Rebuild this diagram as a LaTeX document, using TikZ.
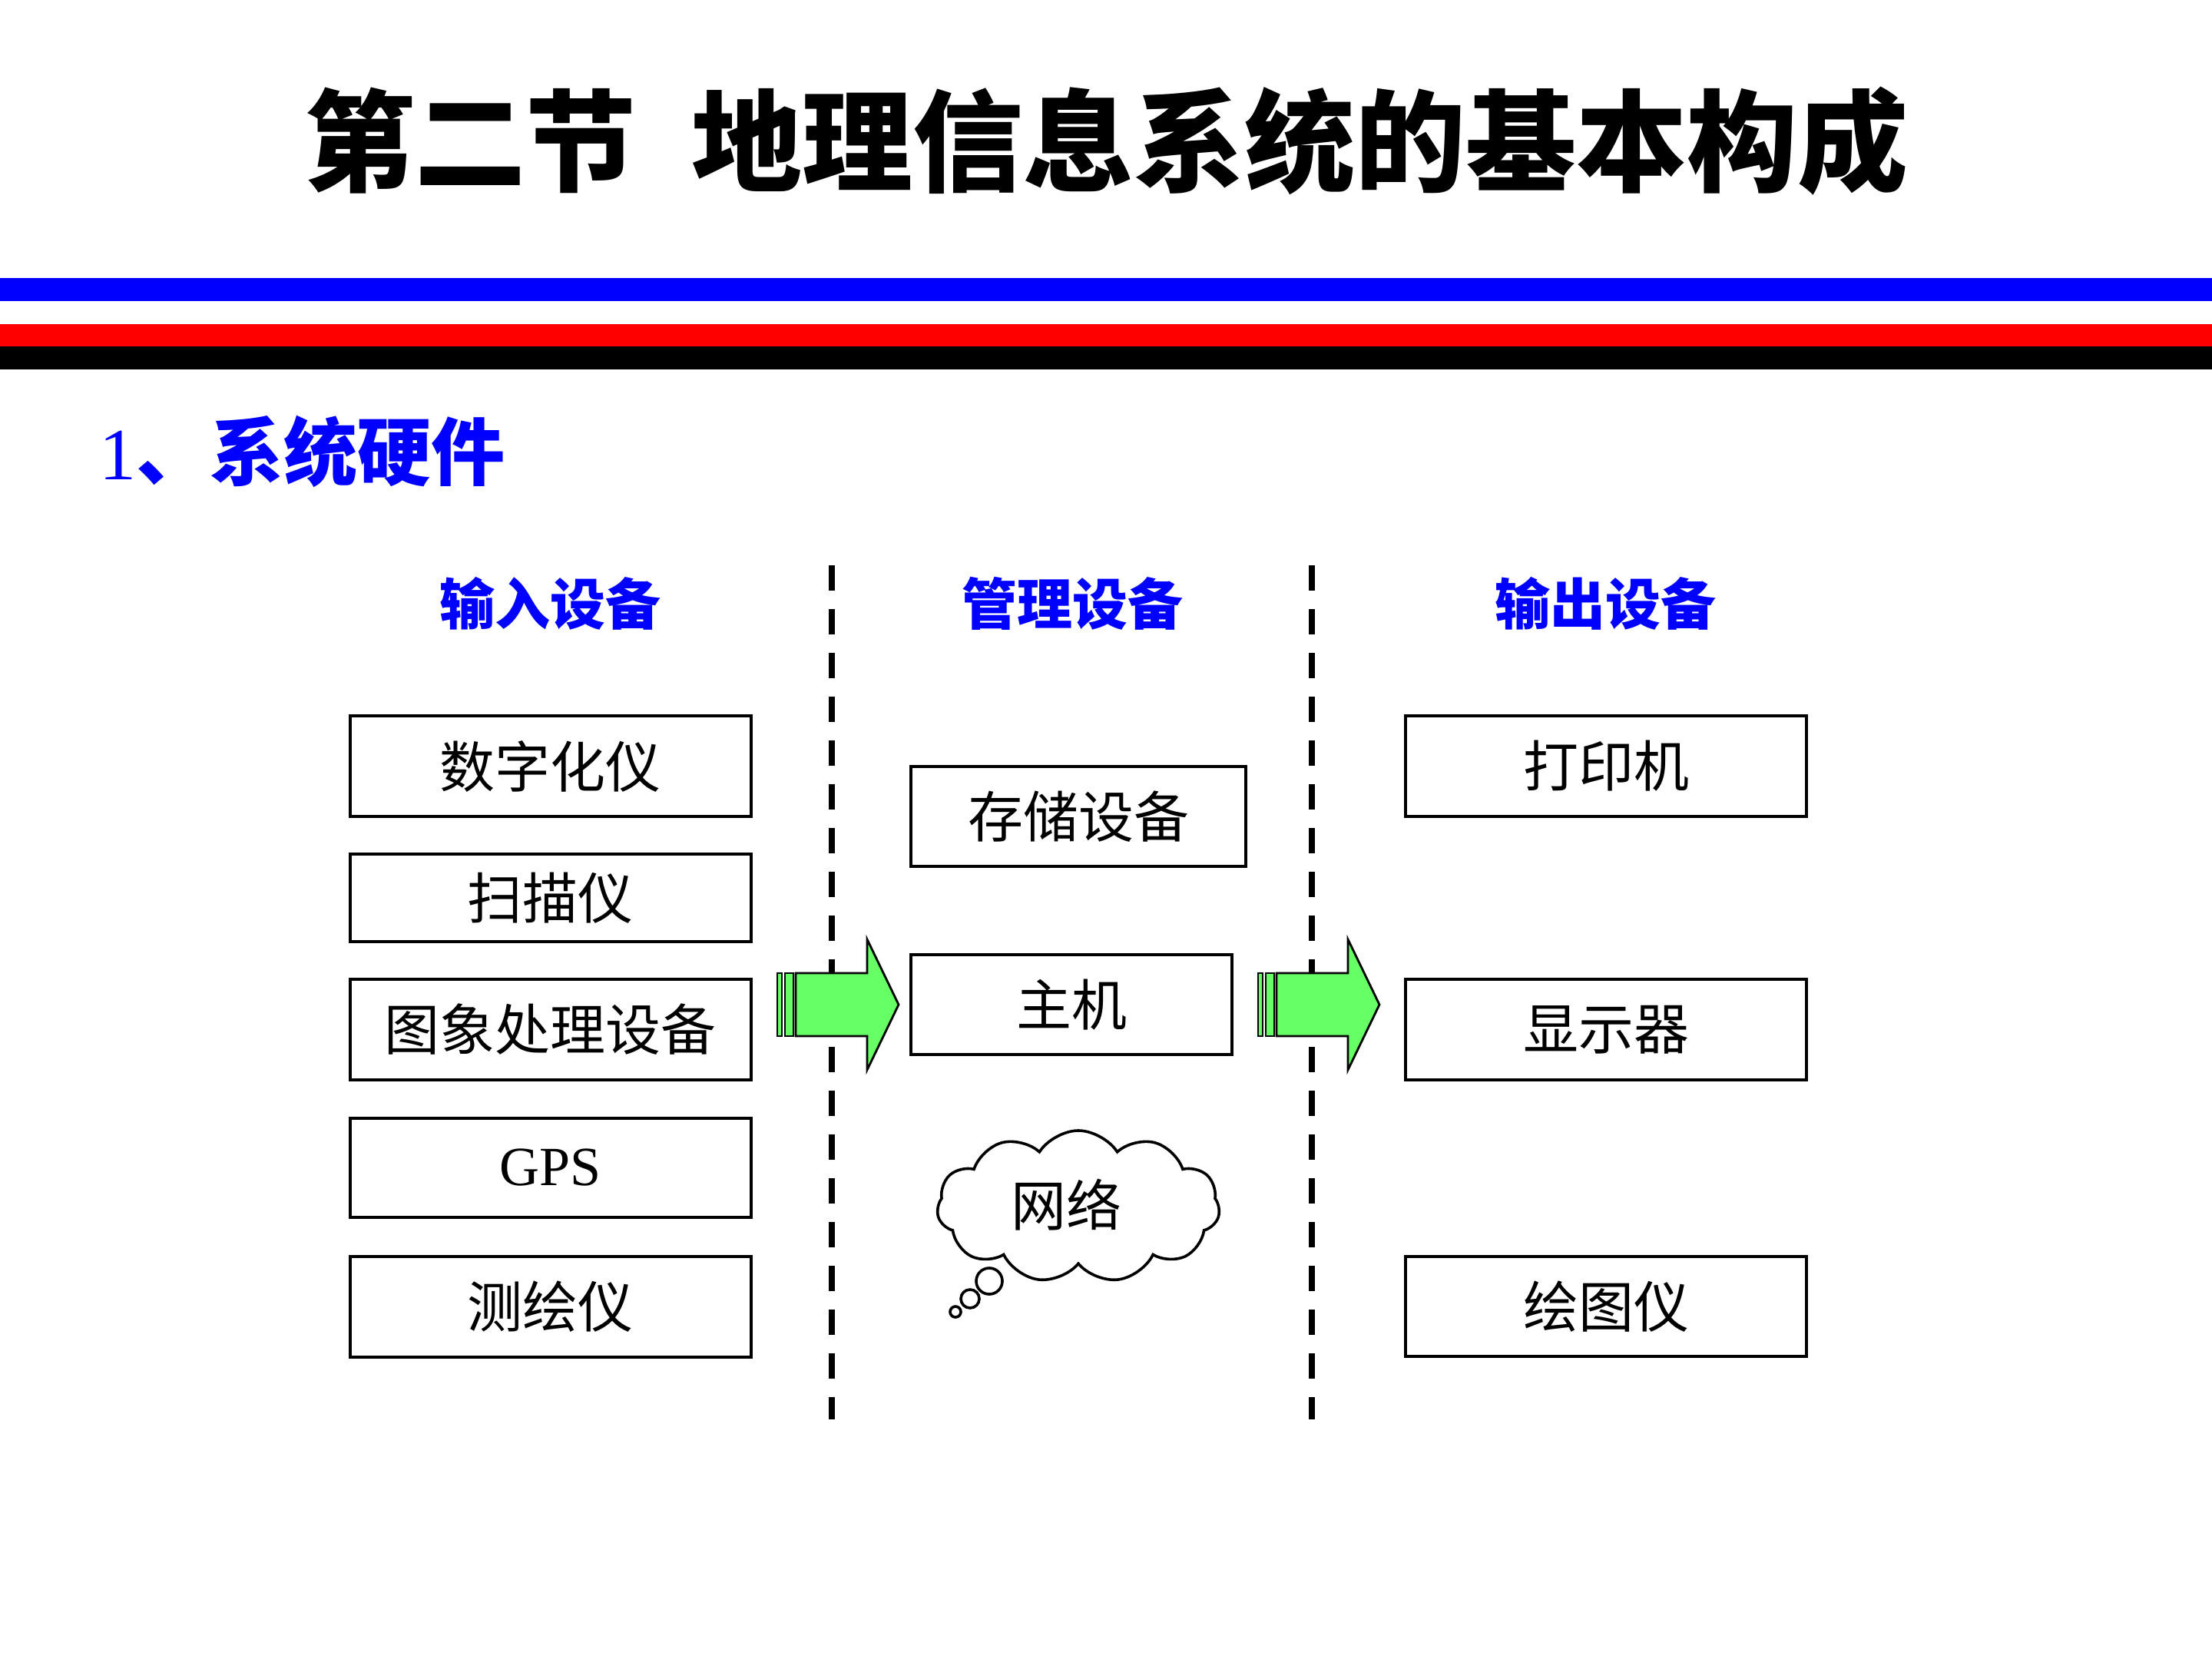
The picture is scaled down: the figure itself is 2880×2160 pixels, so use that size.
\documentclass[tikz,border=0pt]{standalone}
\usepackage{fontspec}
\setmainfont{Liberation Serif}
\newfontfamily\cjk{Noto Sans CJK SC}
\usetikzlibrary{shapes.symbols}
\definecolor{arrgreen}{HTML}{66FF66}
\definecolor{hdrblue}{HTML}{0000FF}
\tikzset{
  x=0.25pt, y=-0.25pt,
  devbox/.style={draw=black, line width=1pt, inner sep=0pt, font=\cjk\fontsize{18}{18}\selectfont},
  colhead/.style={inner sep=0pt, text=hdrblue, font=\cjk\bfseries\fontsize{18}{18}\selectfont},
  sepline/.style={line width=2pt, dash pattern=on 8.25pt off 6pt},
  fatarrow/.style={draw=black, line width=0.7pt, fill=arrgreen, line join=miter},
  bubble/.style={circle, draw=black, line width=0.9pt, inner sep=0pt, fill=white}
}
\begin{document}
\begin{tikzpicture}
\useasboundingbox (0,0) rectangle (2880,2160);
\fill[white] (0,0) rectangle (2880,2160);
% title
\node[inner sep=0pt, font=\cjk\bfseries\fontsize{36}{36}\selectfont] (title) at (1440,184) {第二节\hspace{18pt}地理信息系统的基本构成};
% stripes
\fill[hdrblue] (0,362) rectangle (2880,392);
\fill[red] (0,422) rectangle (2880,451);
\fill[black] (0,451) rectangle (2880,481);
% subtitle
\node[anchor=west, inner sep=0pt, text=hdrblue, font=\fontsize{24}{24}\selectfont] (sub) at (129,588) {1{\cjk\bfseries 、系统硬件}};
% column headers
\node[colhead] (hin) at (716,786) {输入设备};
\node[colhead] (hmg) at (1396,786) {管理设备};
\node[colhead] (hout) at (2090,786) {输出设备};
% separators
\coordinate (s1a) at (1083,736); \coordinate (s1b) at (1083,1848);
\coordinate (s2a) at (1708,736); \coordinate (s2b) at (1708,1848);
\draw[sepline] (s1a) -- (s1b);
\draw[sepline] (s2a) -- (s2b);
% input devices
\node[devbox, minimum width=130.5pt, minimum height=32.75pt] (in1) at (716.5,997.5) {数字化仪};
\node[devbox, minimum width=130.5pt, minimum height=28.5pt] (in2) at (716.5,1169) {扫描仪};
\node[devbox, minimum width=130.5pt, minimum height=32.75pt] (in3) at (716.5,1340.5) {图象处理设备};
\node[devbox, minimum width=130.5pt, minimum height=32.25pt, font=\fontsize{18}{18}\selectfont] (in4) at (716.5,1520.5) {GPS};
\node[devbox, minimum width=130.5pt, minimum height=32.75pt] (in5) at (716.5,1701.5) {测绘仪};
% management
\node[devbox, minimum width=109pt, minimum height=32.5pt] (m1) at (1404,1063) {存储设备};
\node[devbox, minimum width=104.5pt, minimum height=32.5pt] (m2) at (1395,1308) {主机};
\node[cloud, cloud puffs=11, cloud puff arc=115, aspect=1.85, draw=black, line width=0.9pt, inner sep=0pt,
      minimum width=92pt, minimum height=49.5pt, font=\cjk\fontsize{18}{18}\selectfont] (net) at (1404,1571) {\makebox[0pt]{\raisebox{2.5pt}{网络}\hspace{8pt}}};
\node[bubble, minimum size=8.5pt] (b1) at (1288,1668) {};
\node[bubble, minimum size=6pt] (b2) at (1263,1691) {};
\node[bubble, minimum size=3.5pt] (b3) at (1244,1708) {};
% output devices
\node[devbox, minimum width=130.5pt, minimum height=32.75pt] (o1) at (2091,997.5) {打印机};
\node[devbox, minimum width=130.5pt, minimum height=32.75pt] (o2) at (2091,1340.5) {显示器};
\node[devbox, minimum width=130.5pt, minimum height=32.5pt] (o3) at (2091,1701) {绘图仪};
% arrows
\foreach \dx/\nm in {0/a1, 626/a2}{
  \begin{scope}[xshift=\dx*0.25pt]
    \draw[fatarrow] (1012,1267) rectangle (1018,1349);
    \draw[fatarrow] (1022,1267) rectangle (1033,1349);
    \draw[fatarrow] (1036,1267) -- (1129,1267) -- (1129,1223) -- (1170,1308) -- (1129,1393) -- (1129,1349) -- (1036,1349) -- cycle;
  \end{scope}
}
\end{tikzpicture}
\end{document}
